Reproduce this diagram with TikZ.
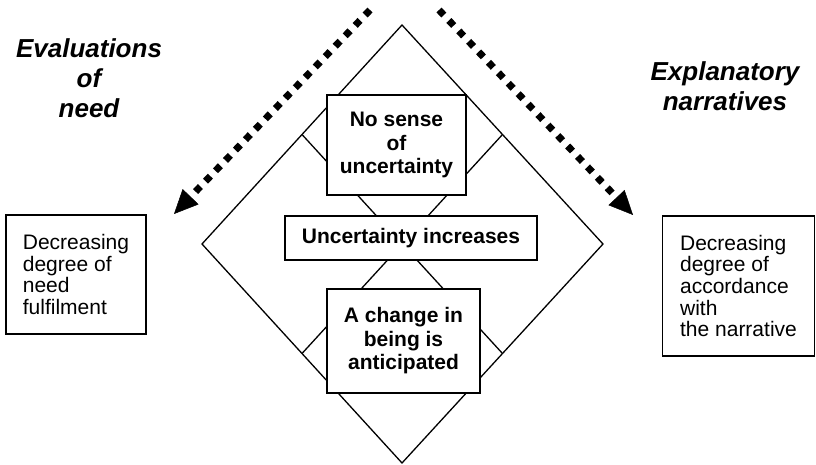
\documentclass[tikz,border=0pt]{standalone}
\usepackage{fontspec}
\setmainfont{Liberation Sans}
\usetikzlibrary{arrows.meta, calc, positioning}
\tikzset{
  stageBox/.style = {draw, fill=white, line width=1.6pt, align=center, inner sep=0pt,
    font=\bfseries\fontsize{21}{23.5}\selectfont},
  sideBox/.style = {draw, line width=1.6pt, align=left, inner sep=0pt,
    font=\fontsize{21}{21.7}\selectfont},
  titleNode/.style = {align=center, font=\bfseries\itshape\fontsize{26}{30}\selectfont},
  dotArrow/.style = {line width=7pt, dash pattern=on 7pt off 7.4pt,
    -{Triangle[length=24pt, width=22pt, line width=0.5pt]}}
}

\begin{document}
\begin{tikzpicture}[x=1pt, y=-1pt]
  \useasboundingbox (0,0) rectangle (816,465);

  \coordinate (diaTop) at (402,25);
  \coordinate (diaLeft) at (202,244);
  \coordinate (diaRight) at (603,244);
  \coordinate (diaBottom) at (402,463);
  \draw[line width=1.3pt] (diaTop) -- (diaRight) -- (diaBottom) -- (diaLeft) -- cycle;
  \draw[line width=1.3pt] ($(diaTop)!0.5!(diaLeft)$) -- ($(diaBottom)!0.5!(diaRight)$);
  \draw[line width=1.3pt] ($(diaTop)!0.5!(diaRight)$) -- ($(diaBottom)!0.5!(diaLeft)$);

  \node[stageBox, minimum width=139pt, minimum height=100pt] (noSense) at (396.5,145) {No sense\\of\\uncertainty};
  \node[stageBox, minimum width=252pt, minimum height=44pt] (uncIncr) at (411,238) {Uncertainty increases};
  \node[stageBox, minimum width=153pt, minimum height=104pt] (changeAnt) at (403.5,341) {A change in\\being is\\anticipated};

  \node[titleNode] (evalTitle) at (89,78) {Evaluations\\of\\need};
  \node[titleNode] (explTitle) at (725,86) {Explanatory\\narratives};

  \node[sideBox, minimum width=140pt, minimum height=119pt] (needBox) at (76,274.5) {Decreasing\\degree of\\need\\fulfilment};
  \node[sideBox, minimum width=152pt, minimum height=140pt] (narrBox) at (738.5,286) {Decreasing\\degree of\\accordance\\with\\the narrative};

  \coordinate (needStart) at (370,10);
  \coordinate (needEnd) at (174,214);
  \coordinate (narrStart) at (439,10);
  \coordinate (narrEnd) at (633,215);
  \draw[dotArrow] (needStart) -- (needEnd);
  \draw[dotArrow] (narrStart) -- (narrEnd);
\end{tikzpicture}
\end{document}
